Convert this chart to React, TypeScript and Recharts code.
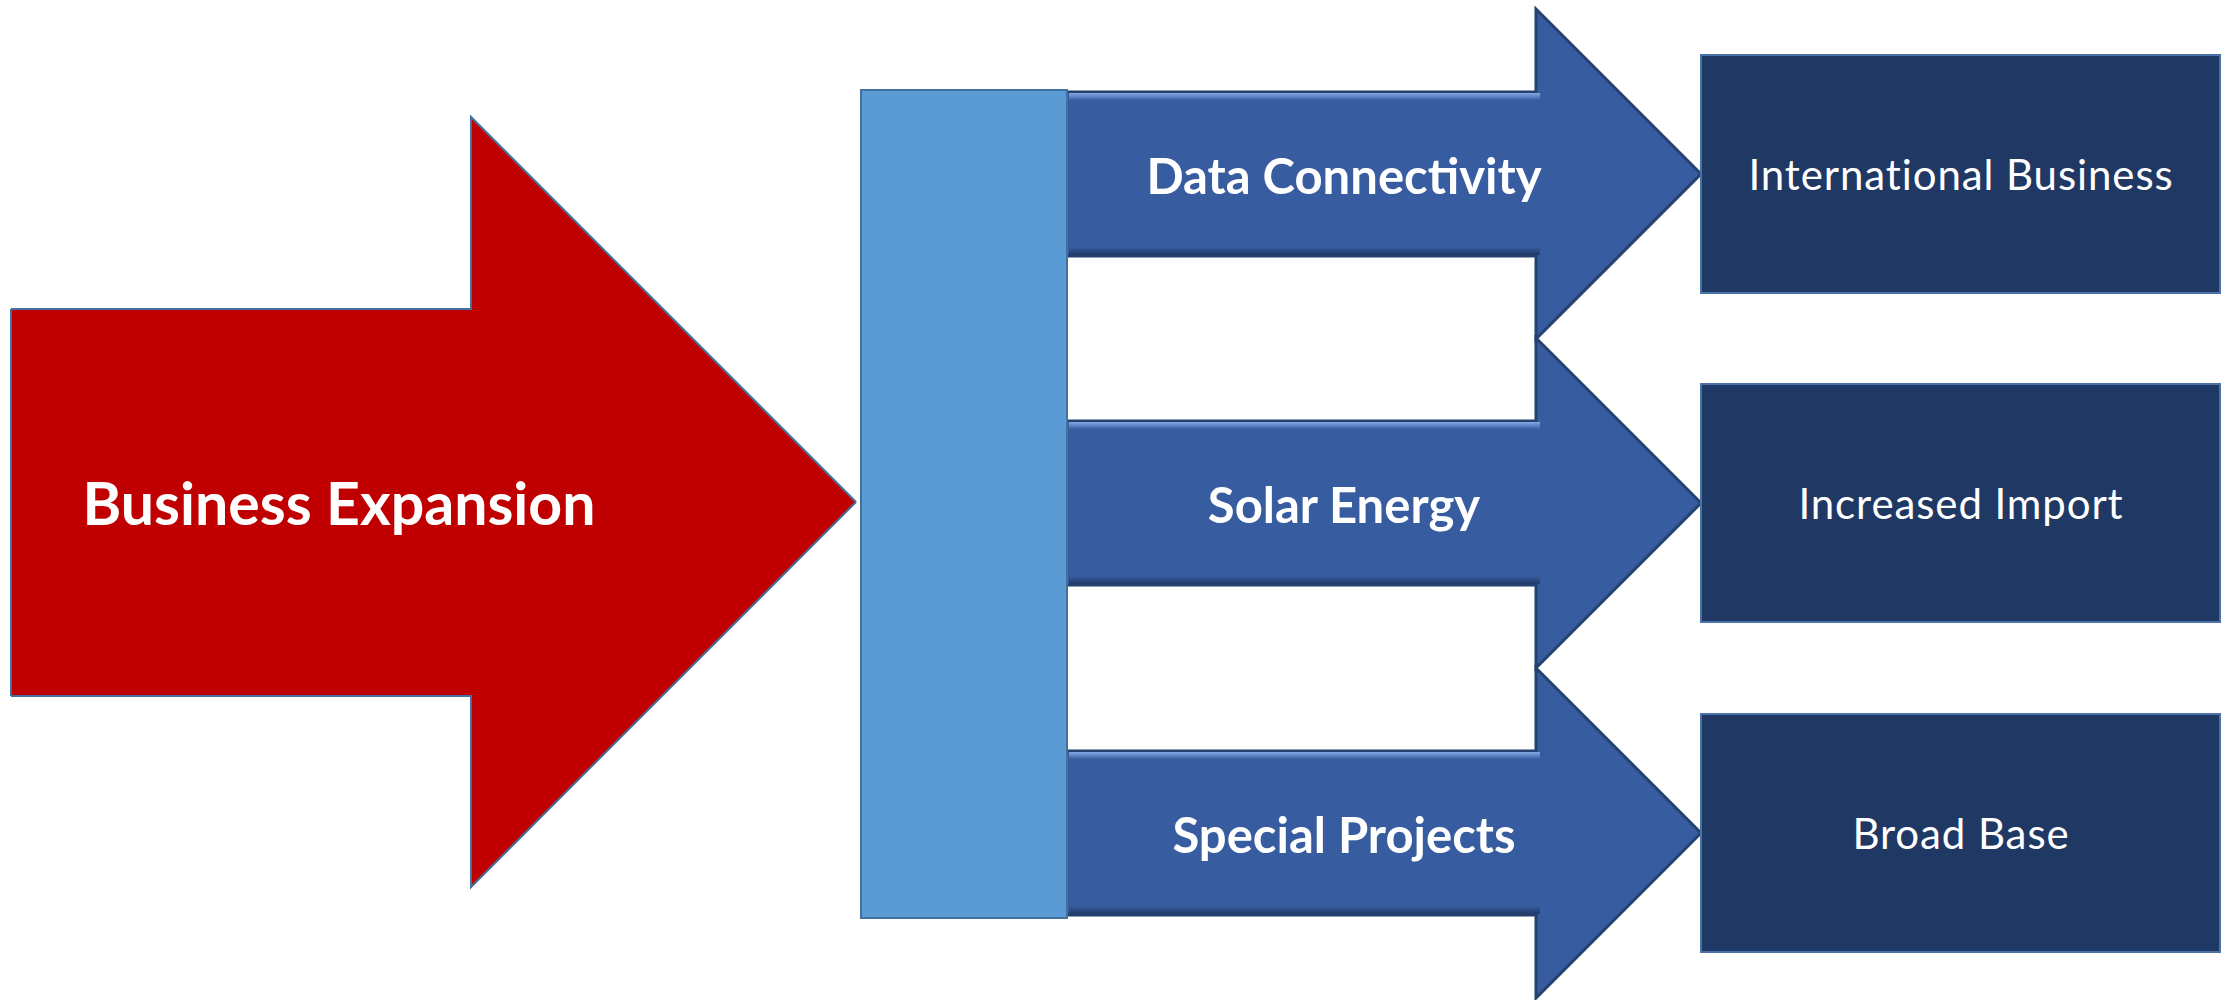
import { Area, ComposedChart, ReferenceArea, ReferenceLine, Scatter, XAxis, YAxis } from 'recharts';

// Diagram units match the reference picture: x 0..2236, y 0..1000 (top-down).
const WIDTH = 2236;
const HEIGHT = 1000;

const sourceLabel = 'Business Expansion';
const flowSteps = ['Data Connectivity', 'Solar Energy', 'Special Projects'];
const outcomes = ['International Business', 'Increased Import', 'Broad Base'];

// vertical centre of each row (arrow + outcome box)
const rowCenters = [174, 503, 833];

// big red arrow, left to right: [x, top, bottom]
const redArrowX = [11, 471, 471, 856];
const redArrowTop = [309, 309, 117, 502];
const redArrowBottom = [696, 696, 887, 502];

// light blue hub bar
const hubX = [861, 1067];
const hubY = [90, 918];

// blue row arrows
const shaftX = [1067, 1536];
const tipX = 1701;
const shaftHalf = 82;
const headHalf = 165;

// outcome boxes
const boxX = [1701, 2220];
const boxHalf = 119;

// label anchors
const sourceAnchor = { x: 339, y: 504 };
const stepLabelX = 1344;
const outcomeLabelX = 1961;

const redArrow = redArrowX.map((x, i) => ({ x, band: [redArrowTop[i], redArrowBottom[i]] }));

const rowArrow = (c: number) => [
  { x: shaftX[0], band: [c - shaftHalf, c + shaftHalf] },
  { x: shaftX[1], band: [c - shaftHalf, c + shaftHalf] },
  { x: shaftX[1], band: [c - headHalf, c + headHalf] },
  { x: tipX, band: [c, c] },
];

const topBevel = (c: number) => [
  { x: shaftX[0] + 2, band: [c - shaftHalf + 1, c - shaftHalf + 8] },
  { x: shaftX[1] + 4, band: [c - shaftHalf + 1, c - shaftHalf + 8] },
];

const bottomBevel = (c: number) => [
  { x: shaftX[0] + 2, band: [c + shaftHalf - 9, c + shaftHalf - 1] },
  { x: shaftX[1] + 4, band: [c + shaftHalf - 9, c + shaftHalf - 1] },
];

const labelPoints = [
  { x: sourceAnchor.x, y: sourceAnchor.y, text: sourceLabel, kind: 'source' },
  ...flowSteps.map((text, i) => ({ x: stepLabelX, y: rowCenters[i] + 2, text, kind: 'step' })),
  ...outcomes.map((text, i) => ({ x: outcomeLabelX, y: rowCenters[i] + 1, text, kind: 'outcome' })),
];

const labelStyles: Record<string, { size: number; weight: number; spacing: number }> = {
  source: { size: 59, weight: 700, spacing: 0 },
  step: { size: 49, weight: 700, spacing: 0 },
  outcome: { size: 42, weight: 400, spacing: 0.9 },
};

function LabelMark(props: any) {
  const { cx, cy, payload } = props;
  const s = labelStyles[payload.kind];
  return (
    <text
      x={cx}
      y={cy}
      dy="0.36em"
      textAnchor="middle"
      fill="#ffffff"
      fontFamily="Lato, 'Open Sans', sans-serif"
      fontWeight={s.weight}
      fontSize={s.size}
      letterSpacing={s.spacing}
    >
      {payload.text}
    </text>
  );
}

export default function App() {
  return (
    <div style={{ position: 'absolute', left: 0, top: 0, width: WIDTH, height: HEIGHT, background: '#fff' }}>
      <ComposedChart width={WIDTH} height={HEIGHT} margin={{ top: 0, right: 0, bottom: 0, left: 0 }}>
        <defs>
          <linearGradient id="bevelTop" x1="0" y1="0" x2="0" y2="1">
            <stop offset="0%" stopColor="#86a8e6" />
            <stop offset="100%" stopColor="#3a5fa3" />
          </linearGradient>
          <linearGradient id="bevelBottom" x1="0" y1="0" x2="0" y2="1">
            <stop offset="0%" stopColor="#375c9f" />
            <stop offset="100%" stopColor="#1f3a68" />
          </linearGradient>
        </defs>
        <XAxis type="number" dataKey="x" domain={[0, WIDTH]} allowDataOverflow hide />
        <YAxis type="number" dataKey="y" domain={[0, HEIGHT]} reversed allowDataOverflow hide />

        <Area
          data={redArrow}
          dataKey="band"
          type="linear"
          fill="#c00000"
          fillOpacity={1}
          stroke="#41719c"
          strokeWidth={2}
          dot={false}
          activeDot={false}
          isAnimationActive={false}
        />
        <ReferenceLine
          segment={[
            { x: redArrowX[0], y: redArrowTop[0] },
            { x: redArrowX[0], y: redArrowBottom[0] },
          ]}
          stroke="#41719c"
          strokeWidth={2}
        />

        {rowCenters.map((c, i) => (
          <Area
            key={`arrow-${i}`}
            data={rowArrow(c)}
            dataKey="band"
            type="linear"
            fill="#375c9f"
            fillOpacity={1}
            stroke="#25416f"
            strokeWidth={3}
            dot={false}
            activeDot={false}
            isAnimationActive={false}
          />
        ))}
        {rowCenters.map((c, i) => (
          <Area
            key={`bevel-top-${i}`}
            data={topBevel(c)}
            dataKey="band"
            type="linear"
            fill="url(#bevelTop)"
            fillOpacity={1}
            stroke="none"
            dot={false}
            activeDot={false}
            isAnimationActive={false}
          />
        ))}
        {rowCenters.map((c, i) => (
          <Area
            key={`bevel-bottom-${i}`}
            data={bottomBevel(c)}
            dataKey="band"
            type="linear"
            fill="url(#bevelBottom)"
            fillOpacity={1}
            stroke="none"
            dot={false}
            activeDot={false}
            isAnimationActive={false}
          />
        ))}

        <ReferenceArea
          x1={hubX[0]}
          x2={hubX[1]}
          y1={hubY[0]}
          y2={hubY[1]}
          fill="#5b9bd5"
          fillOpacity={1}
          stroke="#41719c"
          strokeWidth={2}
        />
        {rowCenters.map((c, i) => (
          <ReferenceArea
            key={`box-${i}`}
            x1={boxX[0]}
            x2={boxX[1]}
            y1={c - boxHalf}
            y2={c + boxHalf}
            fill="#203864"
            fillOpacity={1}
            stroke="#4a72a8"
            strokeWidth={2}
          />
        ))}

        <Scatter data={labelPoints} dataKey="y" shape={LabelMark} isAnimationActive={false} />
      </ComposedChart>
    </div>
  );
}
